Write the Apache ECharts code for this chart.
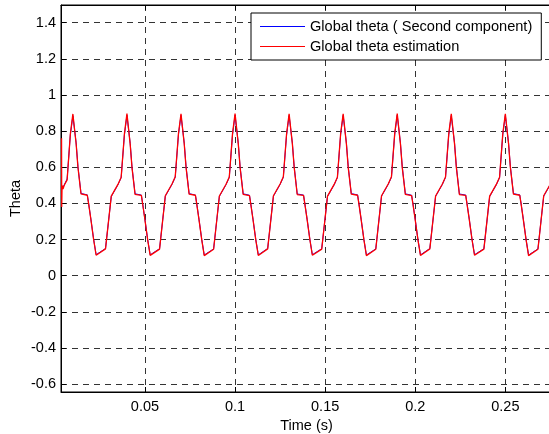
<!DOCTYPE html>
<html>
<head>
<meta charset="utf-8">
<script src="https://cdn.jsdelivr.net/npm/echarts@6/dist/echarts.min.js"></script>
<style>
html,body{margin:0;padding:0;background:#fff;}
#chart{width:549px;height:434px;}
</style>
</head>
<body>
<div id="chart"></div>
<script>
// Time samples (s)
const time = [
  0.0037,0.0038,0.0040,0.0045,0.0052,0.0068,0.0080,0.0086,
  0.0100,0.0118,0.0128,0.0145,0.0180,0.0187,0.0200,0.0215,0.0229,0.0281,0.0313,0.0350,0.0368,0.0386,
  0.0400,0.0418,0.0428,0.0445,0.0480,0.0487,0.0500,0.0515,0.0529,0.0581,0.0613,0.0650,0.0668,0.0686,
  0.0700,0.0718,0.0728,0.0745,0.0780,0.0787,0.0800,0.0815,0.0829,0.0881,0.0913,0.0950,0.0968,0.0986,
  0.1000,0.1018,0.1028,0.1045,0.1080,0.1087,0.1100,0.1115,0.1129,0.1181,0.1213,0.1250,0.1268,0.1286,
  0.1300,0.1318,0.1328,0.1345,0.1380,0.1387,0.1400,0.1415,0.1429,0.1481,0.1513,0.1550,0.1568,0.1586,
  0.1600,0.1618,0.1628,0.1645,0.1680,0.1687,0.1700,0.1715,0.1729,0.1781,0.1813,0.1850,0.1868,0.1886,
  0.1900,0.1918,0.1928,0.1945,0.1980,0.1987,0.2000,0.2015,0.2029,0.2081,0.2113,0.2150,0.2168,0.2186,
  0.2200,0.2218,0.2228,0.2245,0.2280,0.2287,0.2300,0.2315,0.2329,0.2381,0.2413,0.2450,0.2468,0.2486,
  0.2500,0.2518,0.2528,0.2545,0.2580,0.2587,0.2600,0.2615,0.2629,0.2681,0.2713,0.2750,0.2768
];
// Global theta (second component) - blue
const thetaTrue = [
  0.475,0.478,0.482,0.488,0.495,0.535,0.700,0.780,
  0.885,0.735,0.605,0.455,0.447,0.402,0.312,0.202,0.116,0.150,0.438,0.503,0.543,0.780,
  0.888,0.732,0.602,0.453,0.446,0.400,0.310,0.200,0.115,0.149,0.440,0.505,0.545,0.782,
  0.887,0.733,0.603,0.454,0.446,0.401,0.311,0.201,0.114,0.148,0.439,0.504,0.544,0.781,
  0.888,0.732,0.602,0.453,0.445,0.400,0.310,0.200,0.115,0.150,0.440,0.505,0.545,0.780,
  0.886,0.734,0.604,0.452,0.446,0.401,0.312,0.202,0.116,0.149,0.438,0.503,0.543,0.782,
  0.887,0.733,0.603,0.454,0.447,0.402,0.311,0.201,0.114,0.148,0.440,0.505,0.545,0.781,
  0.888,0.732,0.602,0.453,0.445,0.400,0.310,0.200,0.115,0.150,0.439,0.504,0.544,0.780,
  0.886,0.734,0.604,0.452,0.446,0.401,0.312,0.202,0.116,0.149,0.438,0.503,0.543,0.782,
  0.887,0.733,0.603,0.454,0.447,0.402,0.311,0.201,0.114,0.148,0.440,0.505,0.545
];
// Global theta estimation - red
const thetaEst = [
  0.760,0.380,0.500,0.480,0.500,0.530,0.700,0.785,
  0.895,0.730,0.600,0.452,0.445,0.400,0.310,0.200,0.113,0.148,0.440,0.505,0.545,0.785,
  0.897,0.728,0.598,0.450,0.444,0.398,0.308,0.198,0.112,0.147,0.442,0.507,0.547,0.787,
  0.896,0.729,0.599,0.451,0.445,0.399,0.309,0.199,0.111,0.146,0.441,0.506,0.546,0.786,
  0.897,0.728,0.598,0.450,0.443,0.398,0.308,0.198,0.112,0.148,0.442,0.507,0.547,0.785,
  0.895,0.731,0.601,0.449,0.444,0.399,0.310,0.200,0.113,0.147,0.440,0.505,0.545,0.787,
  0.896,0.729,0.599,0.451,0.445,0.400,0.309,0.199,0.111,0.146,0.442,0.507,0.547,0.786,
  0.897,0.728,0.598,0.450,0.443,0.398,0.308,0.198,0.112,0.148,0.441,0.506,0.546,0.785,
  0.895,0.731,0.601,0.449,0.444,0.399,0.310,0.200,0.113,0.147,0.440,0.505,0.545,0.787,
  0.896,0.729,0.599,0.451,0.445,0.400,0.309,0.199,0.111,0.146,0.442,0.507,0.547
];
const xTicks = [0.05, 0.1, 0.15, 0.2, 0.25];
const yTicks = [-0.6, -0.4, -0.2, 0, 0.2, 0.4, 0.6, 0.8, 1, 1.2, 1.4];
const seriesNames = ['Global theta ( Second component)', 'Global theta estimation'];

const FONT = 'Liberation Sans, Arial, Helvetica, sans-serif';
const fmt = v => String(Math.round(v * 100) / 100);
const pairs = arr => time.map((t, i) => [t, arr[i]]);

const chart = echarts.init(document.getElementById('chart'), null, {renderer: 'canvas'});
const gridLine = {show: true, lineStyle: {color: '#333', width: 1, type: [6, 5]}};
chart.setOption({
  animation: false,
  backgroundColor: '#fff',
  grid: {left: 61, top: 5, right: -3, bottom: 42, show: true, borderColor: '#000', borderWidth: 1,
         backgroundColor: 'transparent', outerBoundsMode: 'none', containLabel: false},
  legend: {
    orient: 'vertical', left: 251, top: 13,
    backgroundColor: '#fff', borderColor: '#000', borderWidth: 1, borderRadius: 0,
    padding: [6, 9, 6, 9], itemGap: 5, itemWidth: 45, itemHeight: 1, icon: 'rect',
    textStyle: {fontFamily: FONT, fontSize: 14.6, color: '#000'},
    data: seriesNames
  },
  xAxis: [{
    type: 'value', min: 0.0034, max: 0.2759, position: 'bottom',
    name: 'Time (s)', nameLocation: 'middle', nameGap: 26, nameMoveOverlap: false,
    nameTextStyle: {fontFamily: FONT, fontSize: 14.5, color: '#000'},
    axisLine: {show: true, onZero: false, lineStyle: {color: '#000', width: 1}},
    axisTick: {show: true, inside: true, length: 5, customValues: xTicks, lineStyle: {color: '#000'}},
    axisLabel: {show: true, customValues: xTicks, formatter: fmt, margin: 7, fontFamily: FONT, fontSize: 14.5, color: '#000'},
    splitLine: gridLine
  }, {
    type: 'value', min: 0.0034, max: 0.2759, position: 'top',
    axisLine: {show: true, onZero: false, lineStyle: {color: '#000', width: 1}},
    axisTick: {show: true, inside: true, length: 5, customValues: xTicks, lineStyle: {color: '#000'}},
    axisLabel: {show: false},
    splitLine: {show: false}
  }],
  yAxis: {
    type: 'value', min: -0.644, max: 1.498,
    name: 'Theta', nameLocation: 'middle', nameGap: 38, nameMoveOverlap: false,
    nameTextStyle: {fontFamily: FONT, fontSize: 14.5, color: '#000'},
    axisLine: {show: true, onZero: false, lineStyle: {color: '#000', width: 1}},
    axisTick: {show: true, inside: true, length: 5, customValues: yTicks, lineStyle: {color: '#000'}},
    axisLabel: {show: true, customValues: yTicks, formatter: fmt, margin: 5, fontFamily: FONT, fontSize: 14.5, color: '#000'},
    splitLine: gridLine
  },
  series: [{
    name: seriesNames[0], type: 'line', data: pairs(thetaTrue), showSymbol: false, symbol: 'none',
    clip: true, lineStyle: {color: '#0000ff', width: 1}, itemStyle: {color: '#0000ff'}
  }, {
    name: seriesNames[1], type: 'line', data: pairs(thetaEst), showSymbol: false, symbol: 'none',
    clip: true, lineStyle: {color: '#ff0000', width: 1.3}, itemStyle: {color: '#ff0000'}
  }]
});
</script>
</body>
</html>
